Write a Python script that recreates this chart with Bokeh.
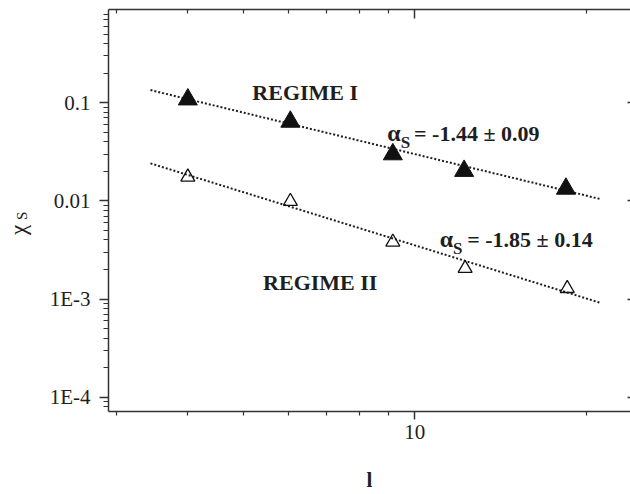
import math
from bokeh.plotting import figure
from bokeh.layouts import row
from bokeh.models import Range1d, LogAxis, FixedTicker, Label
from bokeh.core.properties import value
from bokeh.embed import file_html
from bokeh.resources import INLINE

# ---- data ----
l_regime1 = [4.0, 6.05, 9.15, 12.2, 18.4]
chi_regime1 = [0.108, 0.064, 0.0298, 0.0202, 0.0133]
l_regime2 = [4.0, 6.05, 9.15, 12.25, 18.5]
chi_regime2 = [0.0175, 0.0099, 0.0038, 0.00205, 0.00128]
fit_l = [3.44, 21.2]
fit_regime1 = [0.1345, 0.0104]
fit_regime2 = [0.0241, 0.00091]

x_major_ticks = [10]
x_tick_labels = ["10"]
x_minor_ticks = [3, 4, 5, 6, 7, 8, 9, 20]
y_major_ticks = [1e-4, 1e-3, 1e-2, 1e-1]
y_tick_labels = ["1E-4", "1E-3", "0.01", "0.1"]
y_minor_ticks = [m * d for d in [1e-5, 1e-4, 1e-3, 1e-2, 1e-1] for m in range(2, 10)]

FONT = "Liberation Serif"
INK = "#1e1e1e"
AXIS = "#333333"
W_TITLE = 40  # width of the strip holding the rotated y title

y_rng = Range1d(7.14e-5, 0.891)

p = figure(width=630 - W_TITLE, height=494, x_axis_type="log", y_axis_type="log",
           x_range=Range1d(2.904, 23.88), y_range=y_rng,
           output_backend="svg", toolbar_location=None,
           min_border_left=108 - W_TITLE, min_border_right=0, min_border_top=9,
           min_border_bottom=82)
p.outline_line_color = None
p.grid.visible = False

# bottom axis
xa = p.xaxis[0]
xa.ticker = FixedTicker(ticks=x_major_ticks, minor_ticks=x_minor_ticks)
xa.major_label_overrides = {t: s for t, s in zip(x_major_ticks, x_tick_labels)}
xa.axis_label = "l"
xa.axis_label_text_font = FONT
xa.axis_label_text_font_style = "bold"
xa.axis_label_text_font_size = "21px"
xa.axis_label_text_color = INK
xa.axis_label_standoff = 26
xa.major_label_text_font = FONT
xa.major_label_text_font_size = "21px"
xa.major_label_text_color = INK
xa.major_label_standoff = 5
xa.major_tick_out = 8
xa.major_tick_in = 0
xa.minor_tick_out = 4
xa.minor_tick_in = 0
xa.axis_line_color = AXIS
xa.axis_line_width = 1.5
xa.major_tick_line_color = AXIS
xa.major_tick_line_width = 1.5
xa.minor_tick_line_color = AXIS
xa.minor_tick_line_width = 1.2

# left axis
ya = p.yaxis[0]
ya.ticker = FixedTicker(ticks=y_major_ticks, minor_ticks=y_minor_ticks)
ya.major_label_overrides = {t: s for t, s in zip(y_major_ticks, y_tick_labels)}
ya.major_label_text_font = FONT
ya.major_label_text_font_size = "21px"
ya.major_label_text_color = INK
ya.major_label_standoff = 9
ya.major_tick_out = 9
ya.major_tick_in = 0
ya.minor_tick_out = 5
ya.minor_tick_in = 0
ya.axis_line_color = AXIS
ya.axis_line_width = 1.5
ya.major_tick_line_color = AXIS
ya.major_tick_line_width = 1.5
ya.minor_tick_line_color = AXIS
ya.minor_tick_line_width = 1.2

# top axis (ticks inward, no labels)
top = LogAxis(ticker=FixedTicker(ticks=x_major_ticks, minor_ticks=x_minor_ticks),
              major_label_overrides={t: "" for t in x_major_ticks},
              major_label_text_font_size="0px", major_label_standoff=0,
              major_tick_in=9, major_tick_out=0, minor_tick_in=4, minor_tick_out=0,
              axis_line_color=AXIS, axis_line_width=1.5,
              major_tick_line_color=AXIS, major_tick_line_width=1.5,
              minor_tick_line_color=AXIS, minor_tick_line_width=1.2)
p.add_layout(top, "above")

# right axis (only short inward major ticks visible)
right = LogAxis(ticker=FixedTicker(ticks=y_major_ticks, minor_ticks=[]),
                major_label_overrides={t: "" for t in y_major_ticks},
                major_label_text_font_size="0px", major_label_standoff=0,
                major_tick_in=3, major_tick_out=0, minor_tick_in=0, minor_tick_out=0,
                axis_line_color=None,
                major_tick_line_color=AXIS, major_tick_line_width=1.5)
p.add_layout(right, "right")

# fit lines
p.line(fit_l, fit_regime1, line_color=INK, line_width=2, line_dash="2 2")
p.line(fit_l, fit_regime2, line_color=INK, line_width=2, line_dash="2 2")

# markers
p.scatter(l_regime1, chi_regime1, marker="triangle", size=19,
          fill_color="#111111", line_color="#111111", line_width=1)
p.scatter(l_regime2, chi_regime2, marker="triangle", size=14,
          fill_color=None, line_color="#111111", line_width=1.3)

def txt(x, y, text, size, bold=True, dx=0, dy=0):
    p.add_layout(Label(x=x, y=y, text=text, x_offset=dx, y_offset=dy,
                       text_font=FONT, text_font_size=size,
                       text_font_style="bold" if bold else "normal",
                       text_color=INK, text_align="left", text_baseline="alphabetic"))

txt(5.19, 0.1285, "REGIME I", "22px")
txt(5.42, 0.00149, "REGIME II", "22px")

txt(8.95, 0.0489, "\u03b1", "24px")
txt(8.95, 0.0489, "S", "17px", dx=13.3, dy=-9)
txt(8.95, 0.0489, "= -1.44 \u00b1 0.09", "22px", dx=26.7)

txt(11.06, 0.00407, "\u03b1", "24px")
txt(11.06, 0.00407, "S", "17px", dx=13.3, dy=-9)
txt(11.06, 0.00407, "= -1.85 \u00b1 0.14", "22px", dx=27.4)

# ---- strip with the rotated y-axis title chi_S (shares the y scale) ----
t = figure(width=W_TITLE, height=494, x_range=Range1d(0, W_TITLE), y_range=y_rng,
           y_axis_type="log", output_backend="svg", toolbar_location=None,
           min_border_left=0, min_border_right=0, min_border_top=9, min_border_bottom=82,
           x_axis_location=None, y_axis_location=None)
t.outline_line_color = None
t.grid.visible = False
t.text(x=[17.5], y=[0.00507], text=["\u03c7"], angle=math.pi / 2,
       text_font=value(FONT), text_font_size="23px", text_color=INK,
       text_align="center", text_baseline="alphabetic")
t.text(x=[21], y=[0.00703], text=["S"], angle=math.pi / 2,
       text_font=value(FONT), text_font_size="15px", text_color=INK,
       text_align="center", text_baseline="alphabetic")

layout = row(t, p, spacing=0)
open("out.html", "w").write(file_html(layout, INLINE))
